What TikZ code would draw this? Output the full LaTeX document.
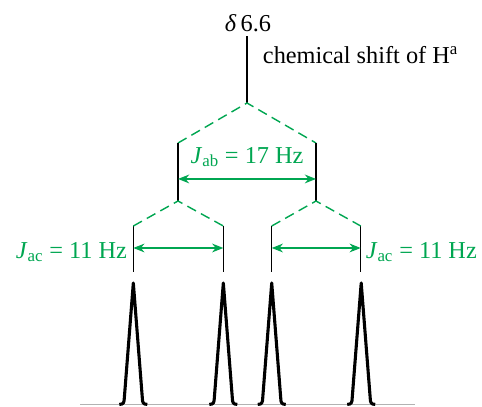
\documentclass[tikz,border=0pt]{standalone}
\usepackage{fontspec}
\setmainfont{Liberation Serif}
\usetikzlibrary{arrows.meta,calc}
\definecolor{jgreen}{RGB}{0,166,81}

\begin{document}
\begin{tikzpicture}[x=1cm,y=1cm,>={Stealth[length=2.8mm,width=2.2mm]},font=\LARGE,
  stem/.style={black, line width=1pt},
  split/.style={jgreen, line width=1pt, dash pattern=on 7pt off 4pt},
  coupling/.style={<->, jgreen, line width=1pt},
  jlabel/.style={text=jgreen},
  peak/.style={black, line width=2.2pt, line join=round}]
\useasboundingbox (0,0) rectangle (12.05,10.15);
% chemical shift of H^a
\node[anchor=base] (shift) at (6.2,9.375) {\textit{δ}\,6.6};
\coordinate (split1) at (6.175,7.575);
\draw[stem] (shift.south -| split1) -- (split1);
\node[anchor=base west] (shiftlab) at (6.45,8.575) {chemical shift of H\textsuperscript{a}};
% first splitting, J_ab
\coordinate (ab1) at (4.45,6.575);
\coordinate (ab2) at (7.9,6.575);
\coordinate (ab1end) at (4.45,5.125);
\coordinate (ab2end) at (7.9,5.125);
\draw[split] (ab1) -- (split1) -- (ab2);
\draw[stem] (ab1) -- (ab1end);
\draw[stem] (ab2) -- (ab2end);
\draw[coupling] ($(ab1)!0.62!(ab1end)$) -- ($(ab2)!0.62!(ab2end)$);
\node[jlabel, anchor=base] (jab) at (6.175,6.075) {\textit{J}\textsubscript{ab} = 17 Hz};
% second splitting, J_ac
\foreach \i/\x in {1/3.333,2/5.583,3/6.793,4/9.018}{
  \coordinate (l\i) at (\x,4.5);
  \coordinate (t\i) at (\x,3.35);
  \draw[stem] (l\i) -- (t\i);
}
\draw[split] (l1) -- (ab1end) -- (l2);
\draw[split] (l3) -- (ab2end) -- (l4);
\draw[coupling] ($(l1)!0.478!(t1)$) -- ($(l2)!0.478!(t2)$);
\draw[coupling] ($(l3)!0.478!(t3)$) -- ($(l4)!0.478!(t4)$);
\node[jlabel, anchor=base east] (jac1) at (3.3,3.7) {\textit{J}\textsubscript{ac} = 11 Hz};
\node[jlabel, anchor=base west] (jac2) at (9.02,3.7) {\textit{J}\textsubscript{ac} = 11 Hz};
% spectrum
\coordinate (base0) at (2.0,0.04);
\coordinate (base1) at (10.375,0.04);
\draw[gray!60, line width=0.7pt] (base0) -- (base1);
\foreach \x in {3.333,5.583,6.793,9.03}{
  \draw[peak] ({\x-0.35},0.04) .. controls ({\x-0.24},0.04) and ({\x-0.23},0.09) .. ({\x-0.225},0.2) -- (\x,3.075) -- ({\x+0.225},0.2) .. controls ({\x+0.23},0.09) and ({\x+0.24},0.04) .. ({\x+0.35},0.04);
}
\end{tikzpicture}
\end{document}
